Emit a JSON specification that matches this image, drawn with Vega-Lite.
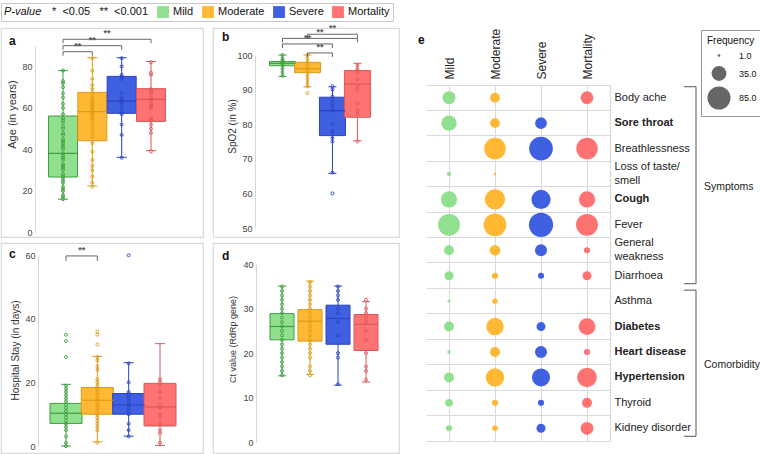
{
"$schema": "https://vega.github.io/schema/vega-lite/v6.json",
"padding": {"left": 0, "top": 2, "right": 0, "bottom": 0},
"datasets": {
"groups": [{"group":"Mild","idx":1},{"group":"Moderate","idx":2},{"group":"Severe","idx":3},{"group":"Mortality","idx":4}],
"box": [
{"panel":"a","group":"Mild","lo":16,"q1":26.7,"med":38.1,"q3":56.1,"hi":78},
{"panel":"a","group":"Moderate","lo":22.4,"q1":44.2,"med":58.2,"q3":67.5,"hi":84.2},
{"panel":"a","group":"Severe","lo":36.2,"q1":57.4,"med":63.3,"q3":75.2,"hi":84.2},
{"panel":"a","group":"Mortality","lo":39.4,"q1":53.5,"med":64.1,"q3":69.3,"hi":82.4},
{"panel":"b","group":"Mild","lo":93.8,"q1":96.9,"med":97.6,"q3":98.1,"hi":100},
{"panel":"b","group":"Moderate","lo":90.8,"q1":94.9,"med":96,"q3":97.9,"hi":100},
{"panel":"b","group":"Severe","lo":65.8,"q1":76.7,"med":83.9,"q3":87.8,"hi":90.8},
{"panel":"b","group":"Mortality","lo":75.2,"q1":82,"med":91.6,"q3":95.5,"hi":97.6},
{"panel":"c","group":"Mild","lo":0,"q1":7.1,"med":10.3,"q3":13.4,"hi":19.4},
{"panel":"c","group":"Moderate","lo":1.3,"q1":10,"med":14.4,"q3":18.4,"hi":28.2},
{"panel":"c","group":"Severe","lo":3.1,"q1":10,"med":12.9,"q3":16.5,"hi":26.2},
{"panel":"c","group":"Mortality","lo":0.2,"q1":6.3,"med":12.3,"q3":19.7,"hi":32.2},
{"panel":"d","group":"Mild","lo":14.9,"q1":23,"med":26,"q3":28.9,"hi":35.1},
{"panel":"d","group":"Moderate","lo":15.2,"q1":22.7,"med":27.2,"q3":29.8,"hi":36.2},
{"panel":"d","group":"Severe","lo":12.8,"q1":22,"med":27.8,"q3":30.8,"hi":35.1},
{"panel":"d","group":"Mortality","lo":13.5,"q1":20.6,"med":26.5,"q3":28.7,"hi":31.6}
],
"pts": [
{"panel":"a","group":"Mild","value":16},{"panel":"a","group":"Mild","value":17},{"panel":"a","group":"Mild","value":18},{"panel":"a","group":"Mild","value":20},{"panel":"a","group":"Mild","value":21},{"panel":"a","group":"Mild","value":22},{"panel":"a","group":"Mild","value":24},{"panel":"a","group":"Mild","value":25},{"panel":"a","group":"Mild","value":26},{"panel":"a","group":"Mild","value":27},{"panel":"a","group":"Mild","value":28},{"panel":"a","group":"Mild","value":30},{"panel":"a","group":"Mild","value":31},{"panel":"a","group":"Mild","value":32},{"panel":"a","group":"Mild","value":33},{"panel":"a","group":"Mild","value":35},{"panel":"a","group":"Mild","value":36},{"panel":"a","group":"Mild","value":37},{"panel":"a","group":"Mild","value":38},{"panel":"a","group":"Mild","value":40},{"panel":"a","group":"Mild","value":41},{"panel":"a","group":"Mild","value":42},{"panel":"a","group":"Mild","value":43},{"panel":"a","group":"Mild","value":44},{"panel":"a","group":"Mild","value":45},{"panel":"a","group":"Mild","value":47},{"panel":"a","group":"Mild","value":48},{"panel":"a","group":"Mild","value":50},{"panel":"a","group":"Mild","value":51},{"panel":"a","group":"Mild","value":53},{"panel":"a","group":"Mild","value":54},{"panel":"a","group":"Mild","value":55},{"panel":"a","group":"Mild","value":57},{"panel":"a","group":"Mild","value":60},{"panel":"a","group":"Mild","value":62},{"panel":"a","group":"Mild","value":65},{"panel":"a","group":"Mild","value":67},{"panel":"a","group":"Mild","value":70},{"panel":"a","group":"Mild","value":72},{"panel":"a","group":"Mild","value":73},{"panel":"a","group":"Mild","value":78},
{"panel":"a","group":"Moderate","value":22},{"panel":"a","group":"Moderate","value":24},{"panel":"a","group":"Moderate","value":27},{"panel":"a","group":"Moderate","value":30},{"panel":"a","group":"Moderate","value":32},{"panel":"a","group":"Moderate","value":35},{"panel":"a","group":"Moderate","value":39},{"panel":"a","group":"Moderate","value":43},{"panel":"a","group":"Moderate","value":46},{"panel":"a","group":"Moderate","value":48},{"panel":"a","group":"Moderate","value":50},{"panel":"a","group":"Moderate","value":52},{"panel":"a","group":"Moderate","value":54},{"panel":"a","group":"Moderate","value":55},{"panel":"a","group":"Moderate","value":56},{"panel":"a","group":"Moderate","value":57},{"panel":"a","group":"Moderate","value":58},{"panel":"a","group":"Moderate","value":59},{"panel":"a","group":"Moderate","value":60},{"panel":"a","group":"Moderate","value":61},{"panel":"a","group":"Moderate","value":62},{"panel":"a","group":"Moderate","value":63},{"panel":"a","group":"Moderate","value":64},{"panel":"a","group":"Moderate","value":65},{"panel":"a","group":"Moderate","value":67},{"panel":"a","group":"Moderate","value":69},{"panel":"a","group":"Moderate","value":71},{"panel":"a","group":"Moderate","value":74},{"panel":"a","group":"Moderate","value":78},{"panel":"a","group":"Moderate","value":84},
{"panel":"a","group":"Severe","value":36},{"panel":"a","group":"Severe","value":47},{"panel":"a","group":"Severe","value":52},{"panel":"a","group":"Severe","value":57},{"panel":"a","group":"Severe","value":58},{"panel":"a","group":"Severe","value":60},{"panel":"a","group":"Severe","value":62},{"panel":"a","group":"Severe","value":63},{"panel":"a","group":"Severe","value":64},{"panel":"a","group":"Severe","value":65},{"panel":"a","group":"Severe","value":67},{"panel":"a","group":"Severe","value":74},{"panel":"a","group":"Severe","value":75},{"panel":"a","group":"Severe","value":76},{"panel":"a","group":"Severe","value":80},{"panel":"a","group":"Severe","value":84},
{"panel":"a","group":"Mortality","value":39},{"panel":"a","group":"Mortality","value":48},{"panel":"a","group":"Mortality","value":50},{"panel":"a","group":"Mortality","value":52},{"panel":"a","group":"Mortality","value":54},{"panel":"a","group":"Mortality","value":55},{"panel":"a","group":"Mortality","value":60},{"panel":"a","group":"Mortality","value":61},{"panel":"a","group":"Mortality","value":62},{"panel":"a","group":"Mortality","value":64},{"panel":"a","group":"Mortality","value":65},{"panel":"a","group":"Mortality","value":67},{"panel":"a","group":"Mortality","value":68},{"panel":"a","group":"Mortality","value":69},{"panel":"a","group":"Mortality","value":76},{"panel":"a","group":"Mortality","value":77},{"panel":"a","group":"Mortality","value":82},
{"panel":"b","group":"Mild","value":94},{"panel":"b","group":"Mild","value":95},{"panel":"b","group":"Mild","value":96},{"panel":"b","group":"Mild","value":97},{"panel":"b","group":"Mild","value":97.5},{"panel":"b","group":"Mild","value":98},{"panel":"b","group":"Mild","value":98.5},{"panel":"b","group":"Mild","value":99},{"panel":"b","group":"Mild","value":100},
{"panel":"b","group":"Moderate","value":89},{"panel":"b","group":"Moderate","value":91},{"panel":"b","group":"Moderate","value":92},{"panel":"b","group":"Moderate","value":93},{"panel":"b","group":"Moderate","value":94},{"panel":"b","group":"Moderate","value":95},{"panel":"b","group":"Moderate","value":96},{"panel":"b","group":"Moderate","value":97},{"panel":"b","group":"Moderate","value":98},{"panel":"b","group":"Moderate","value":99},{"panel":"b","group":"Moderate","value":100},
{"panel":"b","group":"Severe","value":60},{"panel":"b","group":"Severe","value":66},{"panel":"b","group":"Severe","value":75},{"panel":"b","group":"Severe","value":76},{"panel":"b","group":"Severe","value":77},{"panel":"b","group":"Severe","value":78},{"panel":"b","group":"Severe","value":80},{"panel":"b","group":"Severe","value":84},{"panel":"b","group":"Severe","value":85},{"panel":"b","group":"Severe","value":86},{"panel":"b","group":"Severe","value":87},{"panel":"b","group":"Severe","value":88},{"panel":"b","group":"Severe","value":90},{"panel":"b","group":"Severe","value":91},
{"panel":"b","group":"Mortality","value":75},{"panel":"b","group":"Mortality","value":83},{"panel":"b","group":"Mortality","value":84},{"panel":"b","group":"Mortality","value":86},{"panel":"b","group":"Mortality","value":90},{"panel":"b","group":"Mortality","value":91},{"panel":"b","group":"Mortality","value":93},{"panel":"b","group":"Mortality","value":95},{"panel":"b","group":"Mortality","value":96},{"panel":"b","group":"Mortality","value":97},
{"panel":"c","group":"Mild","value":0},{"panel":"c","group":"Mild","value":1},{"panel":"c","group":"Mild","value":3},{"panel":"c","group":"Mild","value":5},{"panel":"c","group":"Mild","value":6},{"panel":"c","group":"Mild","value":7},{"panel":"c","group":"Mild","value":8},{"panel":"c","group":"Mild","value":9},{"panel":"c","group":"Mild","value":10},{"panel":"c","group":"Mild","value":11},{"panel":"c","group":"Mild","value":12},{"panel":"c","group":"Mild","value":13},{"panel":"c","group":"Mild","value":14},{"panel":"c","group":"Mild","value":15},{"panel":"c","group":"Mild","value":16},{"panel":"c","group":"Mild","value":17},{"panel":"c","group":"Mild","value":18},{"panel":"c","group":"Mild","value":19},{"panel":"c","group":"Mild","value":28},{"panel":"c","group":"Mild","value":33},{"panel":"c","group":"Mild","value":35},
{"panel":"c","group":"Moderate","value":1},{"panel":"c","group":"Moderate","value":5},{"panel":"c","group":"Moderate","value":6},{"panel":"c","group":"Moderate","value":7},{"panel":"c","group":"Moderate","value":8},{"panel":"c","group":"Moderate","value":9},{"panel":"c","group":"Moderate","value":10},{"panel":"c","group":"Moderate","value":11},{"panel":"c","group":"Moderate","value":12},{"panel":"c","group":"Moderate","value":13},{"panel":"c","group":"Moderate","value":14},{"panel":"c","group":"Moderate","value":15},{"panel":"c","group":"Moderate","value":16},{"panel":"c","group":"Moderate","value":17},{"panel":"c","group":"Moderate","value":18},{"panel":"c","group":"Moderate","value":19},{"panel":"c","group":"Moderate","value":20},{"panel":"c","group":"Moderate","value":21},{"panel":"c","group":"Moderate","value":24},{"panel":"c","group":"Moderate","value":25},{"panel":"c","group":"Moderate","value":27},{"panel":"c","group":"Moderate","value":28},{"panel":"c","group":"Moderate","value":32},{"panel":"c","group":"Moderate","value":35},{"panel":"c","group":"Moderate","value":36},
{"panel":"c","group":"Severe","value":3},{"panel":"c","group":"Severe","value":5},{"panel":"c","group":"Severe","value":7},{"panel":"c","group":"Severe","value":10},{"panel":"c","group":"Severe","value":11},{"panel":"c","group":"Severe","value":12},{"panel":"c","group":"Severe","value":13},{"panel":"c","group":"Severe","value":14},{"panel":"c","group":"Severe","value":15},{"panel":"c","group":"Severe","value":16},{"panel":"c","group":"Severe","value":17},{"panel":"c","group":"Severe","value":20},{"panel":"c","group":"Severe","value":26},{"panel":"c","group":"Severe","value":60},
{"panel":"c","group":"Mortality","value":1},{"panel":"c","group":"Mortality","value":4},{"panel":"c","group":"Mortality","value":5},{"panel":"c","group":"Mortality","value":7},{"panel":"c","group":"Mortality","value":9},{"panel":"c","group":"Mortality","value":10},{"panel":"c","group":"Mortality","value":12},{"panel":"c","group":"Mortality","value":13},{"panel":"c","group":"Mortality","value":15},{"panel":"c","group":"Mortality","value":17},{"panel":"c","group":"Mortality","value":19},{"panel":"c","group":"Mortality","value":20},{"panel":"c","group":"Mortality","value":21},
{"panel":"d","group":"Mild","value":15},{"panel":"d","group":"Mild","value":16},{"panel":"d","group":"Mild","value":17},{"panel":"d","group":"Mild","value":18},{"panel":"d","group":"Mild","value":19},{"panel":"d","group":"Mild","value":20},{"panel":"d","group":"Mild","value":21},{"panel":"d","group":"Mild","value":22},{"panel":"d","group":"Mild","value":23},{"panel":"d","group":"Mild","value":24},{"panel":"d","group":"Mild","value":25},{"panel":"d","group":"Mild","value":26},{"panel":"d","group":"Mild","value":27},{"panel":"d","group":"Mild","value":28},{"panel":"d","group":"Mild","value":29},{"panel":"d","group":"Mild","value":30},{"panel":"d","group":"Mild","value":31},{"panel":"d","group":"Mild","value":32},{"panel":"d","group":"Mild","value":33},{"panel":"d","group":"Mild","value":34},{"panel":"d","group":"Mild","value":35},
{"panel":"d","group":"Moderate","value":15},{"panel":"d","group":"Moderate","value":16},{"panel":"d","group":"Moderate","value":17},{"panel":"d","group":"Moderate","value":19},{"panel":"d","group":"Moderate","value":20},{"panel":"d","group":"Moderate","value":21},{"panel":"d","group":"Moderate","value":22},{"panel":"d","group":"Moderate","value":23},{"panel":"d","group":"Moderate","value":24},{"panel":"d","group":"Moderate","value":25},{"panel":"d","group":"Moderate","value":26},{"panel":"d","group":"Moderate","value":27},{"panel":"d","group":"Moderate","value":28},{"panel":"d","group":"Moderate","value":29},{"panel":"d","group":"Moderate","value":30},{"panel":"d","group":"Moderate","value":31},{"panel":"d","group":"Moderate","value":32},{"panel":"d","group":"Moderate","value":33},{"panel":"d","group":"Moderate","value":34},{"panel":"d","group":"Moderate","value":35},{"panel":"d","group":"Moderate","value":36},
{"panel":"d","group":"Severe","value":13},{"panel":"d","group":"Severe","value":19},{"panel":"d","group":"Severe","value":20},{"panel":"d","group":"Severe","value":24},{"panel":"d","group":"Severe","value":27},{"panel":"d","group":"Severe","value":29},{"panel":"d","group":"Severe","value":30},{"panel":"d","group":"Severe","value":32},{"panel":"d","group":"Severe","value":33},{"panel":"d","group":"Severe","value":34},{"panel":"d","group":"Severe","value":35},
{"panel":"d","group":"Mortality","value":14},{"panel":"d","group":"Mortality","value":16},{"panel":"d","group":"Mortality","value":17},{"panel":"d","group":"Mortality","value":20},{"panel":"d","group":"Mortality","value":23},{"panel":"d","group":"Mortality","value":25},{"panel":"d","group":"Mortality","value":27},{"panel":"d","group":"Mortality","value":28},{"panel":"d","group":"Mortality","value":29},{"panel":"d","group":"Mortality","value":30},{"panel":"d","group":"Mortality","value":32}
],
"sig": [
{"panel":"a","g1":"Mild","g2":"Moderate","level":87.1,"sig":"**"},
{"panel":"a","g1":"Mild","g2":"Severe","level":90,"sig":"**"},
{"panel":"a","g1":"Mild","g2":"Mortality","level":93.1,"sig":"**"},
{"panel":"b","g1":"Moderate","g2":"Severe","level":100.6,"sig":"**"},
{"panel":"b","g1":"Mild","g2":"Severe","level":103.2,"sig":"**"},
{"panel":"b","g1":"Mild","g2":"Mortality","level":104.8,"sig":"**"},
{"panel":"b","g1":"Moderate","g2":"Mortality","level":106,"sig":"**"},
{"panel":"c","g1":"Mild","g2":"Moderate","level":59.8,"sig":"**"}
],
"freq": [
{"item":"Body ache","group":"Mild","freq":27},{"item":"Body ache","group":"Moderate","freq":15},{"item":"Body ache","group":"Mortality","freq":26},
{"item":"Sore throat","group":"Mild","freq":38},{"item":"Sore throat","group":"Moderate","freq":15},{"item":"Sore throat","group":"Severe","freq":22},
{"item":"Breathlessness","group":"Moderate","freq":74},{"item":"Breathlessness","group":"Severe","freq":90},{"item":"Breathlessness","group":"Mortality","freq":74},
{"item":"Loss of taste/smell","group":"Mild","freq":3},{"item":"Loss of taste/smell","group":"Moderate","freq":1},
{"item":"Cough","group":"Mild","freq":42},{"item":"Cough","group":"Moderate","freq":65},{"item":"Cough","group":"Severe","freq":59},{"item":"Cough","group":"Mortality","freq":42},
{"item":"Fever","group":"Mild","freq":77},{"item":"Fever","group":"Moderate","freq":83},{"item":"Fever","group":"Severe","freq":94},{"item":"Fever","group":"Mortality","freq":77},
{"item":"General weakness","group":"Mild","freq":16},{"item":"General weakness","group":"Moderate","freq":18},{"item":"General weakness","group":"Severe","freq":23},{"item":"General weakness","group":"Mortality","freq":6},
{"item":"Diarrhoea","group":"Mild","freq":13},{"item":"Diarrhoea","group":"Moderate","freq":6},{"item":"Diarrhoea","group":"Severe","freq":6},{"item":"Diarrhoea","group":"Mortality","freq":13},
{"item":"Asthma","group":"Mild","freq":1.4},{"item":"Asthma","group":"Moderate","freq":4.5},
{"item":"Diabetes","group":"Mild","freq":16},{"item":"Diabetes","group":"Moderate","freq":49},{"item":"Diabetes","group":"Severe","freq":13},{"item":"Diabetes","group":"Mortality","freq":45},
{"item":"Heart disease","group":"Mild","freq":2},{"item":"Heart disease","group":"Moderate","freq":16},{"item":"Heart disease","group":"Severe","freq":23},{"item":"Heart disease","group":"Mortality","freq":6},
{"item":"Hypertension","group":"Mild","freq":16},{"item":"Hypertension","group":"Moderate","freq":54},{"item":"Hypertension","group":"Severe","freq":52},{"item":"Hypertension","group":"Mortality","freq":61},
{"item":"Thyroid","group":"Mild","freq":9.5},{"item":"Thyroid","group":"Moderate","freq":6},{"item":"Thyroid","group":"Severe","freq":6},{"item":"Thyroid","group":"Mortality","freq":16},
{"item":"Kidney disorder","group":"Mild","freq":6},{"item":"Kidney disorder","group":"Moderate","freq":5},{"item":"Kidney disorder","group":"Severe","freq":13},{"item":"Kidney disorder","group":"Mortality","freq":26}
],
"brackets": [
{"label":"Symptoms","first":"Body ache","last":"Diarrhoea","mid":"Cough"},
{"label":"Comorbidity","first":"Asthma","last":"Kidney disorder","mid":"Hypertension"}
]
},
"hconcat": [
{"vconcat": [
 {"hconcat": [
  {"width": 202, "height": 209,
   "title": {"text": "a", "offset": -20, "dx": 8},
   "layer": [
    {"data": {"name": "box"}, "transform": [{"filter": "datum.panel == 'a'"}, {"lookup": "group", "from": {"data": {"name": "groups"}, "key": "group", "fields": ["idx"]}}],
     "layer": [
      {"mark": {"type": "rule", "strokeWidth": 1}, "encoding": {
        "x": {"field": "idx", "type": "quantitative", "scale": {"domain": [1, 4], "range": [57, 155], "nice": false, "zero": false}, "axis": null},
        "y": {"field": "lo", "type": "quantitative", "scale": {"domain": [0, 90], "range": [204.4, 17.7], "nice": false, "zero": false},
              "axis": {"orient": "left", "offset": -34, "values": [0,10,20,30,40,50,60,70,80,90], "title": "Age (in years)", "titleFontSize": 11, "titleAngle": -90, "titleX": -23, "titleY": 86, "titleAlign": "center", "titleBaseline": "middle"}},
        "y2": {"field": "hi"},
        "stroke": {"field": "group", "type": "nominal", "scale": {"domain": ["Mild","Moderate","Severe","Mortality"], "range": ["#3f9e3f","#dc9a18","#2843c0","#dc5656"]}, "legend": null}}},
      {"mark": {"type": "rule", "xOffset": -5, "x2Offset": 5}, "encoding": {"x": {"field": "idx", "type": "quantitative"}, "x2": {"field": "idx"}, "y": {"field": "lo", "type": "quantitative"}, "stroke": {"field": "group", "type": "nominal", "legend": null}}},
      {"mark": {"type": "rule", "xOffset": -5, "x2Offset": 5}, "encoding": {"x": {"field": "idx", "type": "quantitative"}, "x2": {"field": "idx"}, "y": {"field": "hi", "type": "quantitative"}, "stroke": {"field": "group", "type": "nominal", "legend": null}}},
      {"mark": {"type": "bar", "width": 29, "strokeWidth": 1}, "encoding": {"x": {"field": "idx", "type": "quantitative"}, "y": {"field": "q1", "type": "quantitative"}, "y2": {"field": "q3"},
        "color": {"field": "group", "type": "nominal", "scale": {"domain": ["__pv","Mild","Moderate","Severe","Mortality"], "range": ["rgba(0,0,0,0)","#90e090","#ffb833","#3f60e0","#ff7272"]},
          "legend": {"title": "\u00a0\u00a0P-value", "orient": "top", "direction": "horizontal", "symbolType": "square", "symbolSize": 140, "symbolStrokeWidth": 0, "labelFontSize": 11, "titleFontSize": 11, "titleFontStyle": "italic", "titleFontWeight": "normal", "titleOrient": "left", "titlePadding": -6, "strokeColor": "#c8c8c8", "padding": 3, "offset": 2, "columnPadding": 8, "labelOffset": 4, "labelExpr": "datum.value == '__pv' ? '*\u00a0\u00a0<0.05\u00a0\u00a0\u00a0**\u00a0\u00a0<0.001' : datum.label"}},
        "stroke": {"field": "group", "type": "nominal", "legend": null}}},
      {"mark": {"type": "rule", "xOffset": -14.5, "x2Offset": 14.5, "strokeWidth": 1.2}, "encoding": {"x": {"field": "idx", "type": "quantitative"}, "x2": {"field": "idx"}, "y": {"field": "med", "type": "quantitative"}, "stroke": {"field": "group", "type": "nominal", "legend": null}}}
     ]},
    {"data": {"name": "pts"}, "transform": [{"filter": "datum.panel == 'a'"}, {"lookup": "group", "from": {"data": {"name": "groups"}, "key": "group", "fields": ["idx"]}}],
     "mark": {"type": "point", "filled": false, "size": 9, "strokeWidth": 0.9, "opacity": 1},
     "encoding": {"x": {"field": "idx", "type": "quantitative"}, "y": {"field": "value", "type": "quantitative"}, "stroke": {"field": "group", "type": "nominal", "legend": null}}},
    {"data": {"name": "sig"}, "transform": [{"filter": "datum.panel == 'a'"}, {"lookup": "g1", "from": {"data": {"name": "groups"}, "key": "group", "fields": ["idx"]}, "as": ["i1"]}, {"lookup": "g2", "from": {"data": {"name": "groups"}, "key": "group", "fields": ["idx"]}, "as": ["i2"]}, {"calculate": "(datum.i1 + datum.i2) / 2", "as": "mid"}],
     "layer": [
      {"mark": {"type": "rule", "color": "#555", "strokeWidth": 0.9}, "encoding": {"x": {"field": "i1", "type": "quantitative"}, "x2": {"field": "i2"}, "y": {"field": "level", "type": "quantitative"}}},
      {"mark": {"type": "rule", "color": "#555", "strokeWidth": 0.9, "y2Offset": 4}, "encoding": {"x": {"field": "i1", "type": "quantitative"}, "y": {"field": "level", "type": "quantitative"}, "y2": {"field": "level"}}},
      {"mark": {"type": "rule", "color": "#555", "strokeWidth": 0.9, "y2Offset": 4}, "encoding": {"x": {"field": "i2", "type": "quantitative"}, "y": {"field": "level", "type": "quantitative"}, "y2": {"field": "level"}}},
      {"mark": {"type": "text", "color": "#555", "fontSize": 9, "fontWeight": "bold", "baseline": "bottom", "dy": -1}, "encoding": {"x": {"field": "mid", "type": "quantitative"}, "y": {"field": "level", "type": "quantitative"}, "text": {"field": "sig"}}}
     ]}
   ]},
  {"width": 186, "height": 209,
   "title": {"text": "b", "offset": -20, "dx": 9},
   "layer": [
    {"data": {"name": "box"}, "transform": [{"filter": "datum.panel == 'b'"}, {"lookup": "group", "from": {"data": {"name": "groups"}, "key": "group", "fields": ["idx"]}}],
     "layer": [
      {"mark": {"type": "rule", "strokeWidth": 1}, "encoding": {
        "x": {"field": "idx", "type": "quantitative", "scale": {"domain": [1, 4], "range": [64.5, 149.4], "nice": false, "zero": false}, "axis": null},
        "y": {"field": "lo", "type": "quantitative", "scale": {"domain": [50, 100], "range": [200, 27], "nice": false, "zero": false},
              "axis": {"orient": "left", "offset": -42, "values": [50,55,60,65,70,75,80,85,90,95,100], "title": "SpO2 (in %)", "titleFontSize": 10, "titleAngle": -90, "titleX": -23, "titleY": 98, "titleAlign": "center", "titleBaseline": "middle"}},
        "y2": {"field": "hi"},
        "stroke": {"field": "group", "type": "nominal", "legend": null}}},
      {"mark": {"type": "rule", "xOffset": -4, "x2Offset": 4}, "encoding": {"x": {"field": "idx", "type": "quantitative"}, "x2": {"field": "idx"}, "y": {"field": "lo", "type": "quantitative"}, "stroke": {"field": "group", "type": "nominal", "legend": null}}},
      {"mark": {"type": "rule", "xOffset": -4, "x2Offset": 4}, "encoding": {"x": {"field": "idx", "type": "quantitative"}, "x2": {"field": "idx"}, "y": {"field": "hi", "type": "quantitative"}, "stroke": {"field": "group", "type": "nominal", "legend": null}}},
      {"mark": {"type": "bar", "width": 26, "strokeWidth": 1}, "encoding": {"x": {"field": "idx", "type": "quantitative"}, "y": {"field": "q1", "type": "quantitative"}, "y2": {"field": "q3"}, "color": {"field": "group", "type": "nominal"}, "stroke": {"field": "group", "type": "nominal", "legend": null}}},
      {"mark": {"type": "rule", "xOffset": -13, "x2Offset": 13, "strokeWidth": 1.2}, "encoding": {"x": {"field": "idx", "type": "quantitative"}, "x2": {"field": "idx"}, "y": {"field": "med", "type": "quantitative"}, "stroke": {"field": "group", "type": "nominal", "legend": null}}}
     ]},
    {"data": {"name": "pts"}, "transform": [{"filter": "datum.panel == 'b'"}, {"lookup": "group", "from": {"data": {"name": "groups"}, "key": "group", "fields": ["idx"]}}],
     "mark": {"type": "point", "filled": false, "size": 9, "strokeWidth": 0.9, "opacity": 1},
     "encoding": {"x": {"field": "idx", "type": "quantitative"}, "y": {"field": "value", "type": "quantitative"}, "stroke": {"field": "group", "type": "nominal", "legend": null}}},
    {"data": {"name": "sig"}, "transform": [{"filter": "datum.panel == 'b'"}, {"lookup": "g1", "from": {"data": {"name": "groups"}, "key": "group", "fields": ["idx"]}, "as": ["i1"]}, {"lookup": "g2", "from": {"data": {"name": "groups"}, "key": "group", "fields": ["idx"]}, "as": ["i2"]}, {"calculate": "(datum.i1 + datum.i2) / 2", "as": "mid"}],
     "layer": [
      {"mark": {"type": "rule", "color": "#555", "strokeWidth": 0.9}, "encoding": {"x": {"field": "i1", "type": "quantitative"}, "x2": {"field": "i2"}, "y": {"field": "level", "type": "quantitative"}}},
      {"mark": {"type": "rule", "color": "#555", "strokeWidth": 0.9, "y2Offset": 4}, "encoding": {"x": {"field": "i1", "type": "quantitative"}, "y": {"field": "level", "type": "quantitative"}, "y2": {"field": "level"}}},
      {"mark": {"type": "rule", "color": "#555", "strokeWidth": 0.9, "y2Offset": 4}, "encoding": {"x": {"field": "i2", "type": "quantitative"}, "y": {"field": "level", "type": "quantitative"}, "y2": {"field": "level"}}},
      {"mark": {"type": "text", "color": "#555", "fontSize": 9, "fontWeight": "bold", "baseline": "bottom", "dy": -1}, "encoding": {"x": {"field": "mid", "type": "quantitative"}, "y": {"field": "level", "type": "quantitative"}, "text": {"field": "sig"}}}
     ]}
   ]}
 ], "spacing": 8},
 {"hconcat": [
  {"width": 202, "height": 210,
   "title": {"text": "c", "offset": -18, "dx": 8},
   "layer": [
    {"data": {"name": "box"}, "transform": [{"filter": "datum.panel == 'c'"}, {"lookup": "group", "from": {"data": {"name": "groups"}, "key": "group", "fields": ["idx"]}}],
     "layer": [
      {"mark": {"type": "rule", "strokeWidth": 1}, "encoding": {
        "x": {"field": "idx", "type": "quantitative", "scale": {"domain": [1, 4], "range": [60, 164], "nice": false, "zero": false}, "axis": null},
        "y": {"field": "lo", "type": "quantitative", "scale": {"domain": [0, 60], "range": [203, 12.3], "nice": false, "zero": false},
              "axis": {"orient": "left", "offset": -37, "values": [0,10,20,30,40,50,60], "title": "Hospital Stay (in days)", "titleFontSize": 10, "titleAngle": -90, "titleX": -23, "titleY": 107, "titleAlign": "center", "titleBaseline": "middle"}},
        "y2": {"field": "hi"},
        "stroke": {"field": "group", "type": "nominal", "legend": null}}},
      {"mark": {"type": "rule", "xOffset": -5, "x2Offset": 5}, "encoding": {"x": {"field": "idx", "type": "quantitative"}, "x2": {"field": "idx"}, "y": {"field": "lo", "type": "quantitative"}, "stroke": {"field": "group", "type": "nominal", "legend": null}}},
      {"mark": {"type": "rule", "xOffset": -5, "x2Offset": 5}, "encoding": {"x": {"field": "idx", "type": "quantitative"}, "x2": {"field": "idx"}, "y": {"field": "hi", "type": "quantitative"}, "stroke": {"field": "group", "type": "nominal", "legend": null}}},
      {"mark": {"type": "bar", "width": 32, "strokeWidth": 1}, "encoding": {"x": {"field": "idx", "type": "quantitative"}, "y": {"field": "q1", "type": "quantitative"}, "y2": {"field": "q3"}, "color": {"field": "group", "type": "nominal"}, "stroke": {"field": "group", "type": "nominal", "legend": null}}},
      {"mark": {"type": "rule", "xOffset": -16, "x2Offset": 16, "strokeWidth": 1.2}, "encoding": {"x": {"field": "idx", "type": "quantitative"}, "x2": {"field": "idx"}, "y": {"field": "med", "type": "quantitative"}, "stroke": {"field": "group", "type": "nominal", "legend": null}}}
     ]},
    {"data": {"name": "pts"}, "transform": [{"filter": "datum.panel == 'c'"}, {"lookup": "group", "from": {"data": {"name": "groups"}, "key": "group", "fields": ["idx"]}}],
     "mark": {"type": "point", "filled": false, "size": 9, "strokeWidth": 0.9, "opacity": 1},
     "encoding": {"x": {"field": "idx", "type": "quantitative"}, "y": {"field": "value", "type": "quantitative"}, "stroke": {"field": "group", "type": "nominal", "legend": null}}},
    {"data": {"name": "sig"}, "transform": [{"filter": "datum.panel == 'c'"}, {"lookup": "g1", "from": {"data": {"name": "groups"}, "key": "group", "fields": ["idx"]}, "as": ["i1"]}, {"lookup": "g2", "from": {"data": {"name": "groups"}, "key": "group", "fields": ["idx"]}, "as": ["i2"]}, {"calculate": "(datum.i1 + datum.i2) / 2", "as": "mid"}],
     "layer": [
      {"mark": {"type": "rule", "color": "#555", "strokeWidth": 0.9}, "encoding": {"x": {"field": "i1", "type": "quantitative"}, "x2": {"field": "i2"}, "y": {"field": "level", "type": "quantitative"}}},
      {"mark": {"type": "rule", "color": "#555", "strokeWidth": 0.9, "y2Offset": 5}, "encoding": {"x": {"field": "i1", "type": "quantitative"}, "y": {"field": "level", "type": "quantitative"}, "y2": {"field": "level"}}},
      {"mark": {"type": "rule", "color": "#555", "strokeWidth": 0.9, "y2Offset": 5}, "encoding": {"x": {"field": "i2", "type": "quantitative"}, "y": {"field": "level", "type": "quantitative"}, "y2": {"field": "level"}}},
      {"mark": {"type": "text", "color": "#555", "fontSize": 9, "fontWeight": "bold", "baseline": "bottom", "dy": -1}, "encoding": {"x": {"field": "mid", "type": "quantitative"}, "y": {"field": "level", "type": "quantitative"}, "text": {"field": "sig"}}}
     ]}
   ]},
  {"width": 186, "height": 210,
   "title": {"text": "d", "offset": -20, "dx": 9},
   "layer": [
    {"data": {"name": "box"}, "transform": [{"filter": "datum.panel == 'd'"}, {"lookup": "group", "from": {"data": {"name": "groups"}, "key": "group", "fields": ["idx"]}}],
     "layer": [
      {"mark": {"type": "rule", "strokeWidth": 1}, "encoding": {
        "x": {"field": "idx", "type": "quantitative", "scale": {"domain": [1, 4], "range": [64, 158], "nice": false, "zero": false}, "axis": null},
        "y": {"field": "lo", "type": "quantitative", "scale": {"domain": [0, 40], "range": [199, 21.3], "nice": false, "zero": false},
              "axis": {"orient": "left", "offset": -43, "values": [0,5,10,15,20,25,30,35,40], "title": "Ct value (RdRp gene)", "titleFontSize": 9, "titleAngle": -90, "titleX": -24, "titleY": 96, "titleAlign": "center", "titleBaseline": "middle"}},
        "y2": {"field": "hi"},
        "stroke": {"field": "group", "type": "nominal", "legend": null}}},
      {"mark": {"type": "rule", "xOffset": -4, "x2Offset": 4}, "encoding": {"x": {"field": "idx", "type": "quantitative"}, "x2": {"field": "idx"}, "y": {"field": "lo", "type": "quantitative"}, "stroke": {"field": "group", "type": "nominal", "legend": null}}},
      {"mark": {"type": "rule", "xOffset": -4, "x2Offset": 4}, "encoding": {"x": {"field": "idx", "type": "quantitative"}, "x2": {"field": "idx"}, "y": {"field": "hi", "type": "quantitative"}, "stroke": {"field": "group", "type": "nominal", "legend": null}}},
      {"mark": {"type": "bar", "width": 24, "strokeWidth": 1}, "encoding": {"x": {"field": "idx", "type": "quantitative"}, "y": {"field": "q1", "type": "quantitative"}, "y2": {"field": "q3"}, "color": {"field": "group", "type": "nominal"}, "stroke": {"field": "group", "type": "nominal", "legend": null}}},
      {"mark": {"type": "rule", "xOffset": -12, "x2Offset": 12, "strokeWidth": 1.2}, "encoding": {"x": {"field": "idx", "type": "quantitative"}, "x2": {"field": "idx"}, "y": {"field": "med", "type": "quantitative"}, "stroke": {"field": "group", "type": "nominal", "legend": null}}}
     ]},
    {"data": {"name": "pts"}, "transform": [{"filter": "datum.panel == 'd'"}, {"lookup": "group", "from": {"data": {"name": "groups"}, "key": "group", "fields": ["idx"]}}],
     "mark": {"type": "point", "filled": false, "size": 9, "strokeWidth": 0.9, "opacity": 1},
     "encoding": {"x": {"field": "idx", "type": "quantitative"}, "y": {"field": "value", "type": "quantitative"}, "stroke": {"field": "group", "type": "nominal", "legend": null}}}
   ]}
 ], "spacing": 8}
], "spacing": 4},
{"width": 184, "height": 413,
 "view": {"stroke": null},
 "title": {"text": "e", "dx": -8, "offset": -19, "frame": "bounds"},
 "layer": [
  {"data": {"name": "freq"},
   "mark": {"type": "circle", "opacity": 1},
   "encoding": {
    "x": {"field": "group", "type": "nominal", "scale": {"domain": ["Mild","Moderate","Severe","Mortality"], "paddingInner": 0, "paddingOuter": 0},
          "axis": {"orient": "top", "offset": -57, "title": null, "labelAngle": -90, "labelAlign": "left", "labelBaseline": "middle", "labelFontSize": 12, "labelColor": "#222", "labelPadding": 6, "ticks": false, "domain": true, "domainColor": "#d9d9d9", "domainWidth": 1.2, "grid": true, "gridColor": "#d9d9d9", "bandPosition": 0}},
    "y": {"field": "item", "type": "nominal", "scale": {"domain": ["Body ache","Sore throat","Breathlessness","Loss of taste/smell","Cough","Fever","General weakness","Diarrhoea","Asthma","Diabetes","Heart disease","Hypertension","Thyroid","Kidney disorder"], "range": [57, 413], "paddingInner": 0, "paddingOuter": 0},
          "axis": {"orient": "right", "title": null, "labelFontSize": 11, "labelColor": "#222", "labelPadding": 4, "labelLimit": 0, "labelLineHeight": 14, "ticks": false, "domain": true, "domainColor": "#d9d9d9", "domainWidth": 1.2, "grid": true, "gridColor": "#d9d9d9", "bandPosition": 1,
                   "labelExpr": "datum.value == 'Loss of taste/smell' ? ['Loss of taste/', 'smell'] : datum.value == 'General weakness' ? ['General', 'weakness'] : datum.label",
                   "labelOffset": {"condition": {"test": "datum.value == 'Loss of taste/smell' || datum.value == 'General weakness'", "value": -7}, "value": 0},
                   "labelFontWeight": {"condition": {"test": "indexof(['Sore throat','Cough','Diabetes','Heart disease','Hypertension'], datum.value) >= 0", "value": "bold"}, "value": "normal"}}},
    "size": {"field": "freq", "type": "quantitative", "scale": {"domain": [0, 85], "range": [0, 531]},
             "legend": {"orient": "none", "legendX": 275, "legendY": 2, "direction": "vertical", "title": "Frequency", "titleFontSize": 10, "titleFontStyle": "normal", "titleFontWeight": "normal", "titleOrient": "top", "titleAnchor": "start", "titlePadding": 5, "values": [1, 35, 85], "format": ".1f", "labelFontSize": 9, "labelOffset": 8, "symbolType": "circle", "symbolFillColor": "#666", "symbolStrokeColor": "#666", "symbolStrokeWidth": 0, "strokeColor": "#999", "padding": 6, "rowPadding": 5}},
    "color": {"field": "group", "type": "nominal"}
   }},
  {"data": {"name": "brackets"}, "mark": {"type": "rule", "color": "#555", "strokeWidth": 1, "yOffset": -11, "y2Offset": 8},
   "encoding": {"x": {"value": 270}, "y": {"field": "first", "type": "nominal"}, "y2": {"field": "last"}}},
  {"data": {"name": "brackets"}, "mark": {"type": "rule", "color": "#555", "strokeWidth": 1, "yOffset": -11},
   "encoding": {"x": {"value": 258}, "x2": {"value": 270}, "y": {"field": "first", "type": "nominal"}}},
  {"data": {"name": "brackets"}, "mark": {"type": "rule", "color": "#555", "strokeWidth": 1, "yOffset": 8},
   "encoding": {"x": {"value": 258}, "x2": {"value": 270}, "y": {"field": "last", "type": "nominal"}}},
  {"data": {"name": "brackets"}, "mark": {"type": "text", "align": "left", "baseline": "middle", "fontSize": 10.5, "color": "#222"},
   "encoding": {"x": {"value": 278}, "y": {"field": "mid", "type": "nominal", "bandPosition": 0}, "text": {"field": "label"}}}
 ]}
],
"spacing": 18,
"resolve": {"scale": {"size": "independent"}, "legend": {"size": "independent"}},
"config": {
 "font": "Liberation Sans",
 "view": {"stroke": "#d9d9d9", "strokeWidth": 1.2},
 "title": {"fontSize": 12, "fontWeight": "bold", "color": "#111", "anchor": "start"},
 "axis": {"grid": false, "ticks": false, "labelColor": "#444", "titleColor": "#333", "titleFontWeight": "normal", "domainColor": "#d6d6d6", "labelFontSize": 9, "labelPadding": 3},
 "legend": {"labelColor": "#111", "titleColor": "#111"}
}
}
